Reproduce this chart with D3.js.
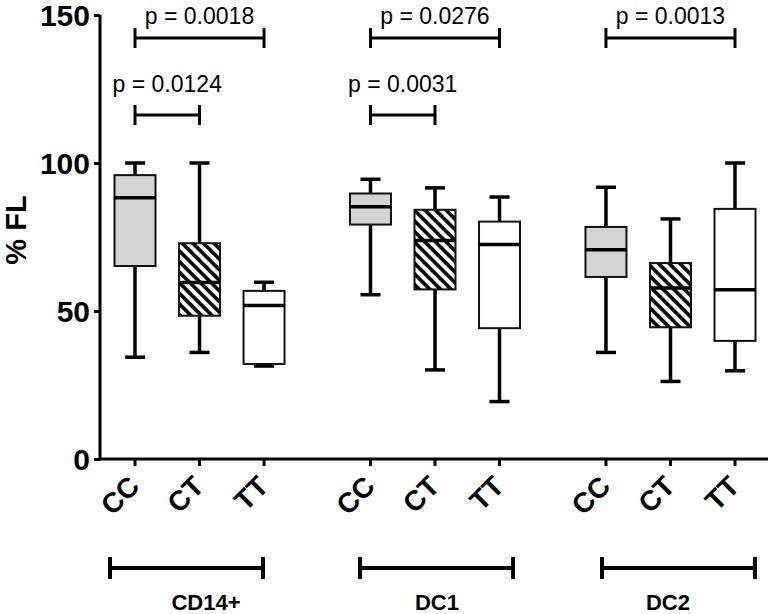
<!DOCTYPE html>
<html>
<head>
<meta charset="utf-8">
<script src="https://cdn.jsdelivr.net/npm/d3@7"></script>
<style>
  html, body { margin: 0; padding: 0; background: #fff; }
  svg { display: block; font-family: "Liberation Sans", Arial, sans-serif; }
</style>
</head>
<body>
<svg id="chart" width="771" height="614"></svg>
<script>
// ---------- data ----------
const groups = ["CD14+", "DC1", "DC2"];
const genotypes = ["CC", "CT", "TT"];
// per group, per genotype: [lower whisker, Q1, median, Q3, upper whisker]
const whiskerLow  = [[34.4, 36.0, 31.4], [55.5, 30.1, 19.4], [36.0, 26.2, 29.8]];
const quartile1   = [[65.2, 48.4, 32.1], [79.2, 57.3, 44.2], [61.5, 44.5, 39.9]];
const medians     = [[88.3, 59.6, 51.9], [85.2, 73.8, 72.5], [70.7, 57.8, 57.2]];
const quartile3   = [[95.9, 72.9, 56.8], [89.7, 84.2, 80.2], [78.4, 66.2, 84.5]];
const whiskerHigh = [[100, 100, 59.7], [94.5, 91.6, 88.5], [91.8, 81.1, 100]];
const yTicks = [0, 50, 100, 150];
// significance comparisons: group, from genotype idx, to genotype idx, level, label
const compGroup = [0, 0, 1, 1, 2];
const compFrom  = [0, 0, 0, 0, 0];
const compTo    = [2, 1, 2, 1, 2];
const compLevel = [0, 1, 0, 1, 0];
const compLabel = ["p = 0.0018", "p = 0.0124", "p = 0.0276", "p = 0.0031", "p = 0.0013"];

// ---------- layout ----------
const svg = d3.select("#chart");
const groupGap = 3.65;           // slot units between group starts
const y = d3.scaleLinear().domain([0, 150]).range([459, 15]);
const x = d3.scaleLinear().domain([0, 2 * groupGap + 2]).range([135, 735]);
const pos = (g, i) => x(g * groupGap + i);
const boxW = 41, capW = 20;
const fills = ["#d4d4d4", "url(#hatch)", "#ffffff"];

// hatch pattern
const defs = svg.append("defs");
const pat = defs.append("pattern")
  .attr("id", "hatch").attr("patternUnits", "userSpaceOnUse")
  .attr("width", 7.5).attr("height", 7.5)
  .attr("patternTransform", "rotate(-45)");
pat.append("rect").attr("width", 7.5).attr("height", 7.5).attr("fill", "#fff");
pat.append("line").attr("x1", 1.9).attr("x2", 1.9).attr("y1", 0).attr("y2", 7.5)
  .attr("stroke", "#000").attr("stroke-width", 3.6);

// ---------- axes ----------
const yAxis = d3.axisLeft(y).tickValues(yTicks).tickSize(6).tickPadding(4);
const gy = svg.append("g").attr("transform", "translate(100,0)").call(yAxis);
gy.select(".domain").attr("stroke", "#000").attr("stroke-width", 3).attr("d", `M0,${y(150)}V${y(0)}`);
gy.selectAll(".tick line").attr("stroke", "#000").attr("stroke-width", 3);
gy.selectAll(".tick text").attr("font-size", 30).attr("font-weight", "bold")
  .attr("fill", "#000").attr("font-family", "Liberation Sans, Arial, sans-serif")
  .attr("dy", "0.36em");

svg.append("text").attr("transform", "translate(26,230) rotate(-90)")
  .attr("text-anchor", "middle").attr("font-size", 29).attr("font-weight", "bold")
  .text("% FL");

// x axis line
svg.append("line").attr("x1", 100).attr("x2", 768).attr("y1", y(0)).attr("y2", y(0))
  .attr("stroke", "#000").attr("stroke-width", 3);

const cats = [];
groups.forEach((gName, g) => genotypes.forEach((gt, i) => cats.push({ g, i, gt })));

// x ticks & labels
svg.selectAll(".xtick").data(cats).join("line")
  .attr("x1", d => pos(d.g, d.i)).attr("x2", d => pos(d.g, d.i))
  .attr("y1", y(0)).attr("y2", y(0) + 7)
  .attr("stroke", "#000").attr("stroke-width", 3);
svg.selectAll(".xlab").data(cats).join("text")
  .attr("transform", d => `translate(${pos(d.g, d.i) + 6},488) rotate(-45)`)
  .attr("text-anchor", "end").attr("font-size", 28).attr("font-weight", "bold")
  .text(d => d.gt);

// ---------- boxes ----------
const boxes = svg.append("g");
cats.forEach(d => {
  const cx = pos(d.g, d.i);
  const lo = whiskerLow[d.g][d.i], q1 = quartile1[d.g][d.i], md = medians[d.g][d.i],
        q3 = quartile3[d.g][d.i], hi = whiskerHigh[d.g][d.i];
  const b = boxes.append("g");
  b.append("line").attr("x1", cx).attr("x2", cx).attr("y1", y(lo)).attr("y2", y(q1))
    .attr("stroke", "#000").attr("stroke-width", 3.5);
  b.append("line").attr("x1", cx).attr("x2", cx).attr("y1", y(q3)).attr("y2", y(hi))
    .attr("stroke", "#000").attr("stroke-width", 3.5);
  b.append("line").attr("x1", cx - capW / 2).attr("x2", cx + capW / 2).attr("y1", y(lo)).attr("y2", y(lo))
    .attr("stroke", "#000").attr("stroke-width", 3.5);
  b.append("line").attr("x1", cx - capW / 2).attr("x2", cx + capW / 2).attr("y1", y(hi)).attr("y2", y(hi))
    .attr("stroke", "#000").attr("stroke-width", 3.5);
  b.append("rect").attr("x", cx - boxW / 2).attr("width", boxW)
    .attr("y", y(q3)).attr("height", y(q1) - y(q3))
    .attr("fill", fills[d.i]).attr("stroke", "#111").attr("stroke-width", 2);
  b.append("line").attr("x1", cx - boxW / 2).attr("x2", cx + boxW / 2).attr("y1", y(md)).attr("y2", y(md))
    .attr("stroke", "#000").attr("stroke-width", 3.5);
});

// ---------- significance brackets ----------
const levelY = [38, 115];
const levelTextY = [24, 92];
compLabel.forEach((lab, k) => {
  const x1 = pos(compGroup[k], compFrom[k]), x2 = pos(compGroup[k], compTo[k]);
  const yy = levelY[compLevel[k]];
  const g = svg.append("g").attr("stroke", "#000").attr("stroke-width", 3);
  g.append("line").attr("x1", x1).attr("x2", x2).attr("y1", yy).attr("y2", yy);
  g.append("line").attr("x1", x1).attr("x2", x1).attr("y1", yy - 10).attr("y2", yy + 10);
  g.append("line").attr("x1", x2).attr("x2", x2).attr("y1", yy - 10).attr("y2", yy + 10);
  svg.append("text").attr("x", (x1 + x2) / 2).attr("y", levelTextY[compLevel[k]])
    .attr("text-anchor", "middle").attr("font-size", 23).text(lab);
});

// ---------- group brackets ----------
const groupBarStart = [110, 360, 602];
const groupBarWidth = 153;
const groupLabelX = [206, 437, 668];
groups.forEach((name, g) => {
  const x1 = groupBarStart[g], x2 = x1 + groupBarWidth, yy = 568;
  const gg = svg.append("g").attr("stroke", "#000").attr("stroke-width", 4);
  gg.append("line").attr("x1", x1).attr("x2", x2).attr("y1", yy).attr("y2", yy);
  gg.append("line").attr("x1", x1).attr("x2", x1).attr("y1", yy - 11).attr("y2", yy + 11);
  gg.append("line").attr("x1", x2).attr("x2", x2).attr("y1", yy - 11).attr("y2", yy + 11);
  svg.append("text").attr("x", groupLabelX[g]).attr("y", 610)
    .attr("text-anchor", "middle").attr("font-size", 22).attr("font-weight", "bold").text(name);
});
</script>
</body>
</html>
